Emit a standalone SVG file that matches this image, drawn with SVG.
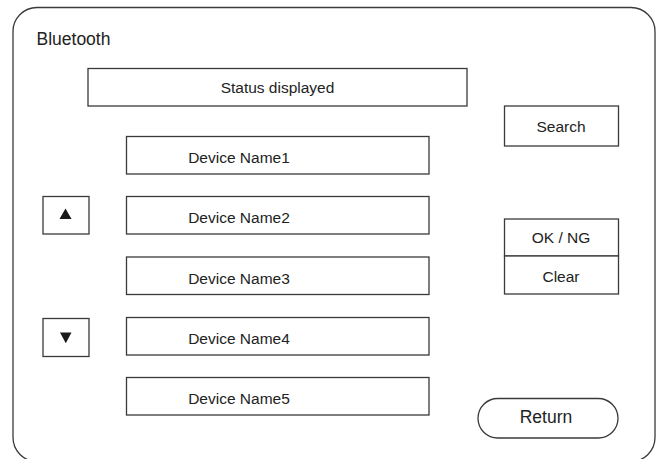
<svg xmlns="http://www.w3.org/2000/svg" width="660" height="459" viewBox="0 0 660 459">
<style>
.box{fill:#fff;stroke:#3a3a3a;stroke-width:1.3}
.t{font-family:"Liberation Sans",Arial,sans-serif;font-size:15.5px;fill:#222;text-anchor:middle}
.tl{font-family:"Liberation Sans",Arial,sans-serif;font-size:17.5px;fill:#222}
.tri{fill:#1a1a1a}
</style>
<rect width="660" height="459" fill="#fff"/>
<g id="frame"><rect class="box" x="13" y="7.5" width="642" height="454" rx="24"/></g>
<g id="title"><text class="tl" x="36.5" y="45">Bluetooth</text></g>
<g id="status"><rect class="box" x="88" y="68.5" width="379" height="37.5"/><text class="t" x="277.5" y="93">Status displayed</text></g>
<g id="dev1"><rect class="box" x="126.5" y="136.5" width="302.5" height="37.5"/><text class="t" x="239" y="163">Device Name1</text></g>
<g id="dev2"><rect class="box" x="126.5" y="196.5" width="302.5" height="37.5"/><text class="t" x="239" y="223">Device Name2</text></g>
<g id="dev3"><rect class="box" x="126.5" y="257" width="302.5" height="37.5"/><text class="t" x="239" y="283.5">Device Name3</text></g>
<g id="dev4"><rect class="box" x="126.5" y="317.5" width="302.5" height="37.5"/><text class="t" x="239" y="344">Device Name4</text></g>
<g id="dev5"><rect class="box" x="126.5" y="377.5" width="302.5" height="37.5"/><text class="t" x="239" y="404">Device Name5</text></g>
<g id="up"><rect class="box" x="43" y="196.5" width="46" height="37.5"/><polygon class="tri" points="65.5,208.5 59.5,219 71.5,219"/></g>
<g id="down"><rect class="box" x="43" y="318.5" width="46" height="38"/><polygon class="tri" points="60,332.5 71.5,332.5 65.8,343.3"/></g>
<g id="search"><rect class="box" x="504.5" y="106" width="114" height="40"/><text class="t" x="561" y="131.5">Search</text></g>
<g id="okng"><rect class="box" x="504.5" y="219" width="114" height="37"/><text class="t" x="561" y="243">OK / NG</text></g>
<g id="clear"><rect class="box" x="504.5" y="256" width="114" height="38"/><text class="t" x="561" y="281.5">Clear</text></g>
<g id="return"><rect class="box" x="478" y="398.5" width="140" height="39.5" rx="19.75"/><text class="tl" x="546" y="422.5" text-anchor="middle">Return</text></g>
<g id="connectors"/>
</svg>
